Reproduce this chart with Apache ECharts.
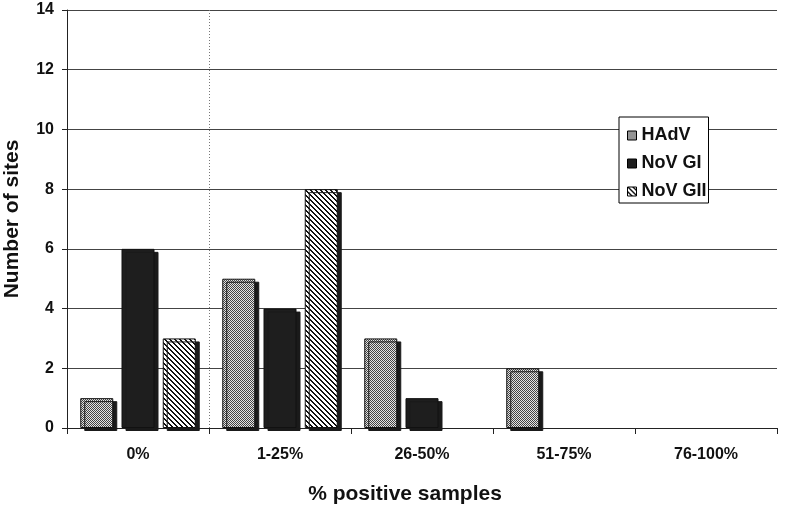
<!DOCTYPE html>
<html><head><meta charset="utf-8">
<script src="https://cdn.jsdelivr.net/npm/echarts@6/dist/echarts.min.js"></script>
<style>html,body{margin:0;padding:0;background:#fff}#c{width:788px;height:505px}</style>
</head><body><div id="c"></div>
<script>
const categories = ['0%', '1-25%', '26-50%', '51-75%', '76-100%'];
const seriesNames = ['HAdV', 'NoV GI', 'NoV GII'];
const hadv = [1, 5, 3, 2, 0];
const novGI = [6, 4, 1, 0, 0];
const novGII = [3, 8, 0, 0, 0];
const yTicks = [0, 2, 4, 6, 8, 10, 12, 14];
const dividerAfterCategory = 1; // dotted separator between "0%" and "1-25%"

function checker() {
  const c = document.createElement('canvas'); c.width = 2; c.height = 2;
  const g = c.getContext('2d');
  g.fillStyle = '#e4e4e4'; g.fillRect(0, 0, 2, 2);
  g.fillStyle = '#444'; g.fillRect(0, 0, 1, 1); g.fillRect(1, 1, 1, 1);
  return c;
}
function diag() {
  const s = 5;
  const c = document.createElement('canvas'); c.width = s; c.height = s;
  const g = c.getContext('2d');
  g.fillStyle = '#fff'; g.fillRect(0, 0, s, s);
  g.fillStyle = '#111';
  for (let i = 0; i < s; i++) { g.fillRect(i, i, 1, 1); g.fillRect((i + 1) % s, i, 1, 1); }
  return c;
}
const fills = [
  { image: checker(), repeat: 'repeat' },
  '#1e1e1e',
  { image: diag(), repeat: 'repeat' }
];
const dataSets = [hadv, novGI, novGII];
const font = '"Liberation Sans", Arial, sans-serif';

const barSeries = seriesNames.map(function (n, k) {
  return {
    name: n, type: 'bar', xAxisIndex: 0,
    data: dataSets[k].map(function (v) { return v === 0 ? null : v; }),
    barWidth: 33, barGap: '25%',
    itemStyle: {
      color: fills[k], borderColor: '#111', borderWidth: 1,
      shadowColor: '#1a1a1a', shadowBlur: 0, shadowOffsetX: 4, shadowOffsetY: 3
    },
    emphasis: { disabled: true }
  };
});
barSeries.push({
  name: 'divider', type: 'line', xAxisIndex: 1, data: [], silent: true,
  markLine: {
    silent: true, symbol: 'none', label: { show: false },
    lineStyle: { color: '#777', type: [1, 2], width: 1 },
    data: [{ xAxis: dividerAfterCategory }]
  }
});

const chart = echarts.init(document.getElementById('c'), null, { renderer: 'canvas' });
chart.setOption({
  animation: false,
  backgroundColor: '#fff',
  grid: { left: 67, right: 11, top: 10, bottom: 77, containLabel: false, outerBoundsMode: 'none' },
  legend: {
    orient: 'vertical', left: 619, top: 117,
    data: seriesNames,
    backgroundColor: '#fff', borderColor: '#000', borderWidth: 1,
    padding: [9, 2, 2, 8], itemGap: 9,
    itemWidth: 9, itemHeight: 9, icon: 'rect',
    itemStyle: { borderColor: '#000', borderWidth: 1, shadowColor: 'transparent', shadowBlur: 0, shadowOffsetX: 0, shadowOffsetY: 0 },
    textStyle: { fontFamily: font, fontWeight: 'bold', fontSize: 18, lineHeight: 19, color: '#111', padding: [0, 0, 0, 0] }
  },
  xAxis: [{
    type: 'category', data: categories,
    name: '% positive samples', nameLocation: 'middle', nameGap: 56,
    nameTextStyle: { fontFamily: font, fontWeight: 'bold', fontSize: 21, color: '#111', padding: [0, 34, 0, 0] },
    axisLine: { lineStyle: { color: '#222', width: 1 } },
    axisTick: { show: true, length: 6, lineStyle: { color: '#222' } },
    axisLabel: { fontFamily: font, fontWeight: 'bold', fontSize: 16, color: '#111', margin: 19 },
    splitLine: { show: false }
  }, {
    type: 'value', min: 0, max: categories.length, position: 'top',
    show: false
  }],
  yAxis: {
    type: 'value', min: 0, max: 14, interval: 2,
    name: 'Number of sites', nameLocation: 'middle', nameGap: 44, nameRotate: 90,
    nameTextStyle: { fontFamily: font, fontWeight: 'bold', fontSize: 21, color: '#111' },
    axisLine: { show: true, lineStyle: { color: '#222', width: 1 } },
    axisTick: { show: true, length: 5, lineStyle: { color: '#222' } },
    axisLabel: { fontFamily: font, fontWeight: 'bold', fontSize: 16, color: '#111', margin: 13,
      formatter: function (v) { return yTicks.indexOf(v) >= 0 ? String(v) : ''; } },
    splitLine: { show: true, lineStyle: { color: '#444', width: 1 } }
  },
  series: barSeries
});
</script></body></html>
